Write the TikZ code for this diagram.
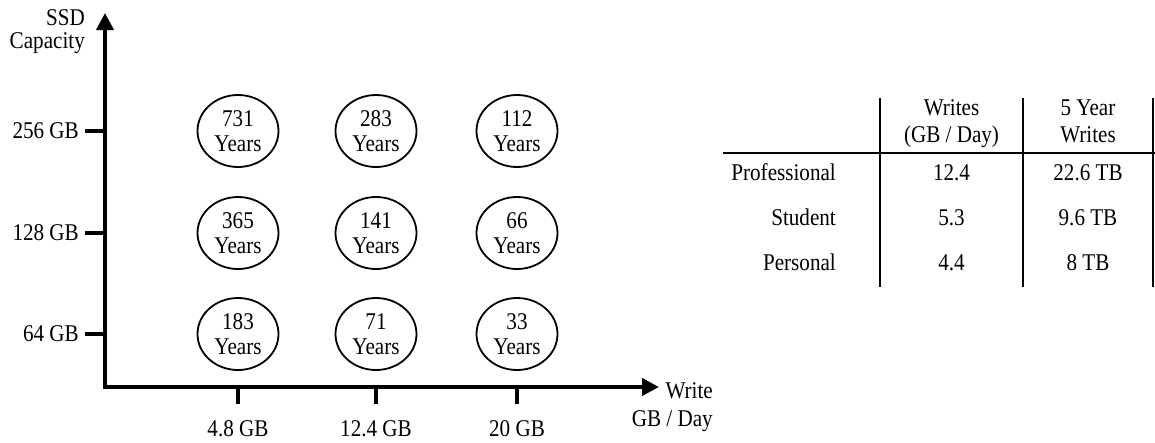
\documentclass[tikz,border=0pt]{standalone}
\usepackage{fontspec}
\setmainfont{Liberation Serif}[FakeStretch=0.88]
\usetikzlibrary{arrows.meta,shapes.geometric}
% invisible strut that fixes the height of a node's first line
\newcommand\firstline{\rule{0pt}{18pt}}
\begin{document}
\begin{tikzpicture}[x=1pt,y=-1pt,
  every node/.style={inner sep=0pt, font=\fontsize{24}{25}\selectfont},
  axis/.style={line width=4pt, line join=miter},
  tickmark/.style={line width=4pt},
  life/.style={ellipse, draw, line width=1.8pt, minimum width=81pt,
    minimum height=72pt, align=center},
  tablerule/.style={line width=2.2pt},
  twoline/.style={align=#1, font=\fontsize{24}{27}\selectfont},
]
\useasboundingbox (0,0) rectangle (1155,442);

% ---- axes ----
\coordinate (O) at (105,387);
\coordinate (ytip) at (105,13);
\coordinate (xtip) at (659,386);
\draw[axis, {Triangle[width=17pt,length=17pt]}-{Triangle[width=17pt,length=17pt]}]
  (ytip) -- (O) -- (xtip |- O);

\node[anchor=north east, align=right, font=\fontsize{24}{23}\selectfont]
  (ylabel) at (85,7) {\firstline SSD\\Capacity};
\node[anchor=north east, align=right, font=\fontsize{24}{28}\selectfont]
  (xlabel) at (713,380) {\firstline Write\\GB / Day};

% capacity ticks
\foreach \y/\lab/\n in {131/256 GB/a, 233/128 GB/b, 334/64 GB/c} {
  \coordinate (yt\n) at (105,\y);
  \coordinate (ys\n) at (85,\y);
  \draw[tickmark] (yt\n) -- (ys\n);
  \node[anchor=east] (ylab\n) at (79,\y) {\lab};
}

% write-rate ticks
\foreach \x/\lab/\n in {238/4.8 GB/a, 376/12.4 GB/b, 517/20 GB/c} {
  \coordinate (xt\n) at (\x,387);
  \coordinate (xs\n) at (\x,404);
  \draw[tickmark] (xt\n) -- (xs\n);
  \node[anchor=base] (xlab\n) at (\x,436) {\lab};
}

% ---- lifetimes ----
\node[life] (e11) at (238,131) {731\\Years};
\node[life] (e12) at (376,131) {283\\Years};
\node[life] (e13) at (517,131) {112\\Years};
\node[life] (e21) at (238,233) {365\\Years};
\node[life] (e22) at (376,233) {141\\Years};
\node[life] (e23) at (517,233) {66\\Years};
\node[life] (e31) at (238,334) {183\\Years};
\node[life] (e32) at (376,334) {71\\Years};
\node[life] (e33) at (517,334) {33\\Years};

% ---- usage table ----
\coordinate (hl) at (723,153);
\coordinate (hr) at (1155,153);
\draw[tablerule] (hl) -- (hr);
\foreach \x/\n in {880/a, 1023/b, 1153/c} {
  \coordinate (vt\n) at (\x,98);
  \coordinate (vb\n) at (\x,287);
  \draw[tablerule] (vt\n) -- (vb\n);
}

\node[anchor=north, twoline=center] (h1) at (951.5,97) {\firstline Writes\\(GB / Day)};
\node[anchor=north, twoline=center] (h2) at (1088,97) {\firstline 5 Year\\Writes};

\node[anchor=base east] (r1) at (836,180) {Professional};
\node[anchor=base east] (r2) at (836,225) {Student};
\node[anchor=base east] (r3) at (836,270) {Personal};

\node[anchor=base] (w1) at (951.5,180) {12.4};
\node[anchor=base] (w2) at (951.5,225) {5.3};
\node[anchor=base] (w3) at (951.5,270) {4.4};

\node[anchor=base] (t1) at (1088,180) {22.6 TB};
\node[anchor=base] (t2) at (1088,225) {9.6 TB};
\node[anchor=base] (t3) at (1088,270) {8 TB};
\end{tikzpicture}
\end{document}
